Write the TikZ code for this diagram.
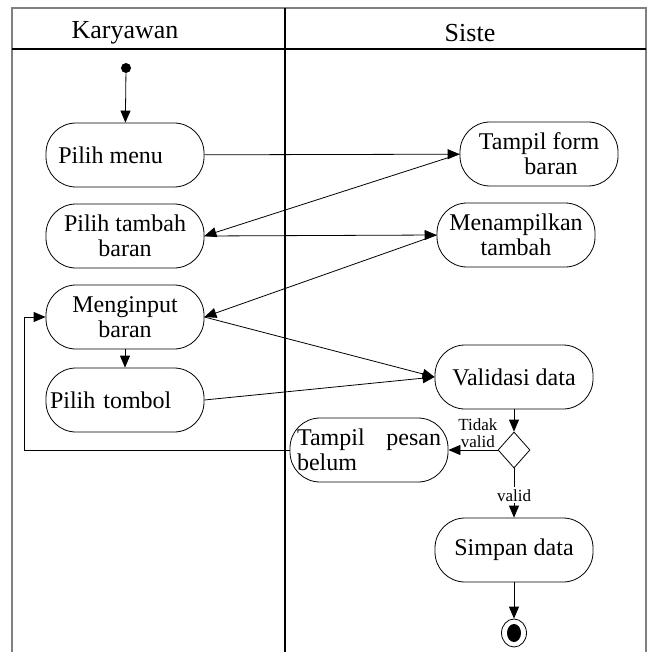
\documentclass[tikz,border=0pt]{standalone}
\usepackage{fontspec}
\setmainfont{Liberation Serif}
\usetikzlibrary{arrows.meta, shapes.geometric, positioning}

\begin{document}
\begin{tikzpicture}[x=0.5pt, y=-0.5pt,
    act/.style={draw, rounded corners=15pt, minimum width=79pt, minimum height=32pt,
      align=center, inner sep=2pt, font=\fontsize{12}{12.5}\selectfont},
    dec/.style={draw, diamond, minimum width=16pt, minimum height=18pt, inner sep=0pt},
    arr/.style={-{Triangle[length=6pt,width=5pt]}},
    lbl/.style={font=\fontsize{8.5}{8.5}\selectfont, inner sep=1pt},
    head/.style={font=\fontsize{13}{13}\selectfont}]
  \useasboundingbox (0,0) rectangle (657,652);

  % swimlanes
  \draw[gray, line width=0.8pt] (12,652) -- (12,8) -- (646,8) -- (646,652);
  \draw[line width=0.6pt] (12,49) -- (646,49);
  \draw[line width=0.8pt] (285,8) -- (285,652);
  \node[head] (kary) at (125,33) {Karyawan};
  \node[head] (sist) at (470,33) {Siste};

  % aktivitas
  \node[circle, fill, inner sep=0pt, minimum size=5pt] (mulai) at (126,68) {};
  \node[act] (menu) at (125,155) {Pilih menu\hspace{1.2em}};
  \node[act] (tambah) at (125,236) {Pilih tambah\\ baran};
  \node[act] (input) at (125,317) {Menginput\\ baran};
  \node[act, align=left, text width=75pt, inner xsep=1pt] (tombol) at (125,400) {Pilih tombol};
  \node[act] (form) at (539,154) {Tampil form\\ \hspace{1em}baran};
  \node[act] (tampilkan) at (516,235) {Menampilkan\\ tambah\hspace{1.5em}};
  \node[act] (validasi) at (514,377) {Validasi data};
  \node[dec] (cek) at (514,450) {};
  \node[act, align=left, text width=72pt, inner xsep=3pt] (pesan) at (369,450) {Tampil\hfill pesan\\ belum};
  \node[act] (simpan) at (514,550) {Simpan data};
  \node[ellipse, draw, inner sep=0pt, minimum width=12.5pt, minimum height=14pt] (akhir) at (514,633) {};
  \node[ellipse, fill, inner sep=0pt, minimum width=7pt, minimum height=9pt] (akhirdot) at (akhir) {};
  \coordinate (balik) at (24,450);

  % alur
  \draw[arr] (mulai) -- (menu);
  \draw[arr] (menu) -- (form);
  \draw[arr] (form.west) -- (tambah.east);
  \draw[arr] (tambah.east) -- (tampilkan.west);
  \draw[arr] (tampilkan.west) -- (input.east);
  \draw[arr] (input) -- (tombol);
  \draw[arr] (input.east) -- (validasi.west);
  \draw[arr] (tombol.east) -- (validasi.west);
  \draw[arr] (validasi) -- (cek);
  \draw[arr] (cek) -- node[lbl, above, align=center, pos=0.4] {Tidak\\ valid} (pesan);
  \draw[arr] (cek) -- node[lbl, fill=white, pos=0.55] {valid} (simpan);
  \draw[arr] (simpan) -- (akhir);
  \draw[arr] (pesan.west) -- (balik) |- (input.west);
\end{tikzpicture}
\end{document}
